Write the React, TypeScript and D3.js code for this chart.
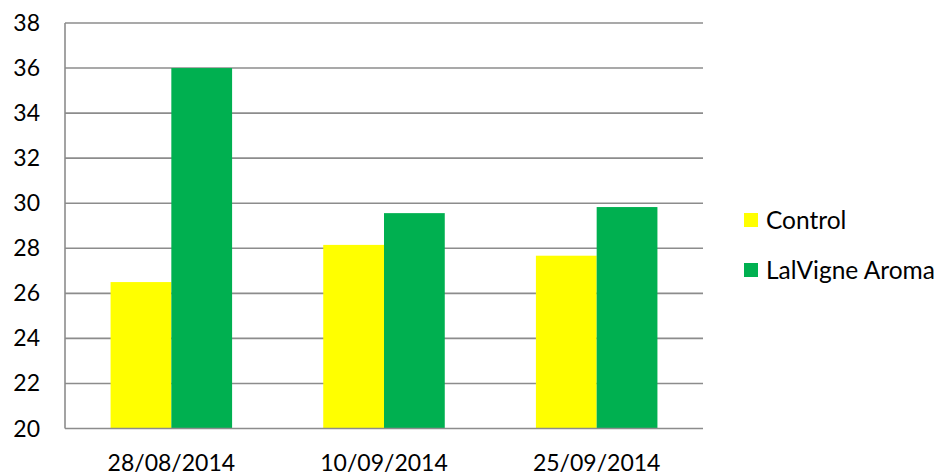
import * as d3 from "d3";

const categories = ["28/08/2014", "10/09/2014", "25/09/2014"];
const seriesNames = ["Control", "LalVigne Aroma"];
const controlValues = [26.5, 28.15, 27.67];
const aromaValues = [36.0, 29.56, 29.83];
const yTicks = [20, 22, 24, 26, 28, 30, 32, 34, 36, 38];
const colors = ["#FFFF00", "#00B050"];

const W = 940;
const H = 476;
const margin = { top: 23, right: 237, bottom: 47.5, left: 65 };
const FONT = "Lato, 'Open Sans', sans-serif";

export default function App() {
  const innerW = W - margin.left - margin.right;
  const innerH = H - margin.top - margin.bottom;

  const x = d3.scaleBand<string>().domain(categories).range([0, innerW]);
  const y = d3.scaleLinear().domain([20, 38]).range([innerH, 0]);

  // excel style: gap width 150%, two bars per group
  const barW = x.bandwidth() / 3.5;
  const gap = barW * 0.75;

  const series = [controlValues, aromaValues];

  return (
    <svg
      width={W}
      height={H}
      style={{ position: "absolute", left: 0, top: 0, background: "#fff" }}
      fontFamily={FONT}
    >
      <g transform={`translate(${margin.left},${margin.top})`}>
        {yTicks.map((t) => (
          <g key={t}>
            {t !== 20 && (
              <line x1={0} x2={innerW} y1={y(t)} y2={y(t)} stroke="#8c8c8c" strokeWidth={1.6} />
            )}
            <text
              x={-25}
              y={y(t)}
              dy="0.35em"
              textAnchor="end"
              fontSize={23}
              fill="#000"
            >
              {t}
            </text>
          </g>
        ))}

        {series.map((vals, si) =>
          vals.map((v, i) => (
            <rect
              key={`${si}-${i}`}
              x={(x(categories[i]) ?? 0) + gap + si * barW}
              y={y(v)}
              width={barW}
              height={innerH - y(v)}
              fill={colors[si]}
            />
          ))
        )}

        <line x1={0} x2={0} y1={0} y2={innerH} stroke="#8c8c8c" strokeWidth={1.6} />
        <line x1={0} x2={innerW} y1={innerH} y2={innerH} stroke="#8c8c8c" strokeWidth={1.6} />

        {categories.map((c) => (
          <text
            key={c}
            x={(x(c) ?? 0) + x.bandwidth() / 2}
            y={innerH + 34}
            dy="0.35em"
            textAnchor="middle"
            fontSize={23}
            fill="#000"
          >
            {c}
          </text>
        ))}
      </g>

      <g transform="translate(744,213)">
        {seriesNames.map((s, i) => (
          <g key={s} transform={`translate(0,${i * 50})`}>
            <rect x={0} y={0} width={14} height={14} fill={colors[i]} />
            <text x={22} y={7} dy="0.35em" fontSize={24.5} fill="#000">
              {s}
            </text>
          </g>
        ))}
      </g>
    </svg>
  );
}
